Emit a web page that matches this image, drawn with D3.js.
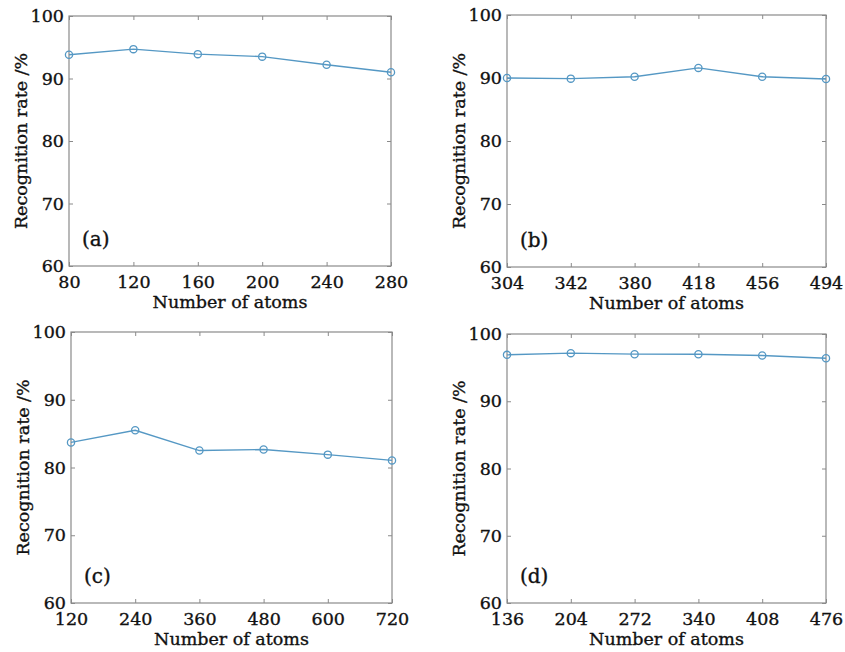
<!DOCTYPE html>
<html>
<head>
	<meta charset="utf-8">
	<title>Recognition rate vs number of atoms</title>
	<script type="text/javascript" src="https://cdn.jsdelivr.net/npm/d3@7"></script>
	<style>
		body { margin: 0; background: #fff; }
		text { font-family: "DejaVu Serif", serif; fill: #111; stroke: #111; stroke-width: 0.35px; }
	</style>
</head>
<body>
	<script type="text/javascript">
		// x categories for each panel
		var atomsA = [80, 120, 160, 200, 240, 280];
		var atomsB = [304, 342, 380, 418, 456, 494];
		var atomsC = [120, 240, 360, 480, 600, 720];
		var atomsD = [136, 204, 272, 340, 408, 476];
		// recognition rate (%)
		var rateA = [93.8, 94.7, 93.9, 93.5, 92.2, 91.0];
		var rateB = [90.0, 89.9, 90.2, 91.6, 90.2, 89.85];
		var rateC = [83.7, 85.5, 82.5, 82.65, 81.9, 81.05];
		var rateD = [96.9, 97.15, 97.0, 97.0, 96.8, 96.4];
		var yTicks = [60, 70, 80, 90, 100];
		var panelLabels = ["(a)", "(b)", "(c)", "(d)"];

		var svg = d3.select("body")
					.append("svg")
					.attr("width", 845)
					.attr("height", 652);

		// plot boxes: left, top, right, bottom
		var boxes = [
			[69, 16, 391, 266],
			[507, 15, 826, 267],
			[71, 332, 392, 603],
			[507, 334, 826, 603]
		];
		var xs = [atomsA, atomsB, atomsC, atomsD];
		var ys = [rateA, rateB, rateC, rateD];

		boxes.forEach(function(b, i){
			var atoms = xs[i], rate = ys[i];
			var x = d3.scaleLinear().domain([atoms[0], atoms[atoms.length - 1]]).range([b[0], b[2]]);
			var y = d3.scaleLinear().domain([60, 100]).range([b[3], b[1]]);
			var g = svg.append("g");

			// frame
			g.append("rect")
				.attr("x", b[0]).attr("y", b[1])
				.attr("width", b[2] - b[0]).attr("height", b[3] - b[1])
				.attr("fill", "none").attr("stroke", "#8a8a8a").attr("stroke-width", 1.2);

			// inward ticks on all sides, labels only bottom and left
			var bottom = g.append("g").attr("transform", "translate(0," + b[3] + ")")
				.call(d3.axisBottom(x).tickValues(atoms).tickSize(-4).tickPadding(10).tickFormat(d3.format("d")));
			var top = g.append("g").attr("transform", "translate(0," + b[1] + ")")
				.call(d3.axisTop(x).tickValues(atoms).tickSize(-4).tickFormat(""));
			var left = g.append("g").attr("transform", "translate(" + b[0] + ",0)")
				.call(d3.axisLeft(y).tickValues(yTicks).tickSize(-4).tickPadding(5).tickFormat(d3.format("d")));
			var right = g.append("g").attr("transform", "translate(" + b[2] + ",0)")
				.call(d3.axisRight(y).tickValues(yTicks).tickSize(-4).tickFormat(""));
			[bottom, top, left, right].forEach(function(a){
				a.select(".domain").remove();
				a.selectAll(".tick line").attr("stroke", "#8a8a8a");
				a.selectAll("text").style("font-family", "DejaVu Serif").style("font-size", "17.5px").attr("fill", "#111");
			});

			// line and circle markers
			var line = d3.line().x(function(d, j){ return x(atoms[j]); }).y(function(d){ return y(d); });
			g.append("path").datum(rate)
				.attr("d", line).attr("fill", "none")
				.attr("stroke", "#5598c4").attr("stroke-width", 1.4);
			g.selectAll("circle").data(rate).enter().append("circle")
				.attr("cx", function(d, j){ return x(atoms[j]); })
				.attr("cy", function(d){ return y(d); })
				.attr("r", 3.6)
				.attr("fill", "none").attr("stroke", "#5598c4").attr("stroke-width", 1.3);

			// axis titles
			g.append("text")
				.attr("x", (b[0] + b[2]) / 2).attr("y", b[3] + 42)
				.attr("text-anchor", "middle").style("font-size", "17.5px")
				.text("Number of atoms");
			g.append("text")
				.attr("transform", "translate(" + (b[0] - 42) + "," + ((b[1] + b[3]) / 2) + ") rotate(-90)")
				.attr("text-anchor", "middle").style("font-size", "17.5px")
				.text("Recognition rate /%");

			// panel label
			g.append("text")
				.attr("x", b[0] + 13).attr("y", b[3] - 20)
				.style("font-size", "20px")
				.text(panelLabels[i]);
		});
	</script>
</body>
</html>
